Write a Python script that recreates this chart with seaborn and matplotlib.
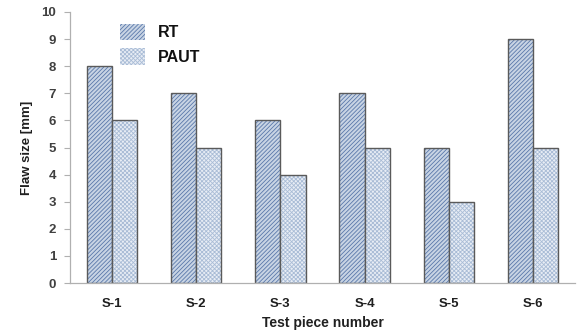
import matplotlib
matplotlib.use("Agg")
import matplotlib.pyplot as plt
import seaborn as sns
import pandas as pd
from matplotlib.colors import to_rgba
from matplotlib.font_manager import FontProperties

categories = ["S-1", "S-2", "S-3", "S-4", "S-5", "S-6"]
rt_values = [8, 7, 6, 7, 5, 9]
paut_values = [6, 5, 4, 5, 3, 5]
series = ["RT", "PAUT"]
yticks = list(range(0, 11))

df = pd.DataFrame({
    "piece": categories * 2,
    "size": rt_values + paut_values,
    "method": ["RT"] * len(categories) + ["PAUT"] * len(categories),
})

sns.set_theme(style="white")
plt.rcParams['font.family'] = ['Liberation Sans', 'DejaVu Sans']
plt.rcParams['hatch.linewidth'] = 0.6

fig = plt.figure(figsize=(5.78, 3.33), dpi=100)
ax = fig.add_axes([0.121, 0.150, 0.874, 0.814])

fills = {"RT": "#c3d3e9", "PAUT": "#e6edf7"}
hatches = {"RT": "////////", "PAUT": "xxxxxxxx"}
hatch_cols = {"RT": "#5a78aa", "PAUT": "#a9bcd6"}

sns.barplot(data=df, x="piece", y="size", hue="method", hue_order=series,
            order=categories, palette=fills, width=0.6, ax=ax,
            edgecolor="#5a5a5a", linewidth=1.0, legend=True)

for cont, name in zip(ax.containers, series):
    for p in cont:
        p.set_hatch(hatches[name])
        p._hatch_color = to_rgba(hatch_cols[name])

ax.set_ylim(0, 10)
ax.set_xlim(-0.5, 5.5)
ax.set_yticks(yticks)
ax.set_yticklabels([str(t) for t in yticks], fontsize=9.5, fontweight="bold", color="#404040")
ax.set_xticklabels(categories, fontsize=9.5, fontweight="bold", color="#202020")
ax.set_ylabel("Flaw size [mm]", fontsize=9.5, fontweight="bold", color="#202020", labelpad=6)
ax.set_xlabel("Test piece number", fontsize=10, fontweight="bold", color="#202020", labelpad=4)

for s in ["top", "right"]:
    ax.spines[s].set_visible(False)
for s in ["left", "bottom"]:
    ax.spines[s].set_color("#b0b0b0")
    ax.spines[s].set_linewidth(0.9)
ax.tick_params(axis="y", which="both", left=True, length=4, width=0.8, color="#b0b0b0", pad=6)
ax.tick_params(axis="x", which="both", bottom=False, pad=5)

handles, labels = ax.get_legend_handles_labels()
ax.get_legend().remove()
leg = ax.legend(handles, labels, loc="upper left", bbox_to_anchor=(0.07, 1.01),
                frameon=False, handlelength=1.6, handleheight=1.2,
                prop=FontProperties(family="Liberation Sans", weight="bold", size=11.5),
                labelcolor="#111111")
for h, name in zip(leg.get_patches(), series):
    h.set_hatch(hatches[name])
    h.set_edgecolor("none")
    h._hatch_color = to_rgba(hatch_cols[name])

fig.savefig("out.png", dpi=100)
